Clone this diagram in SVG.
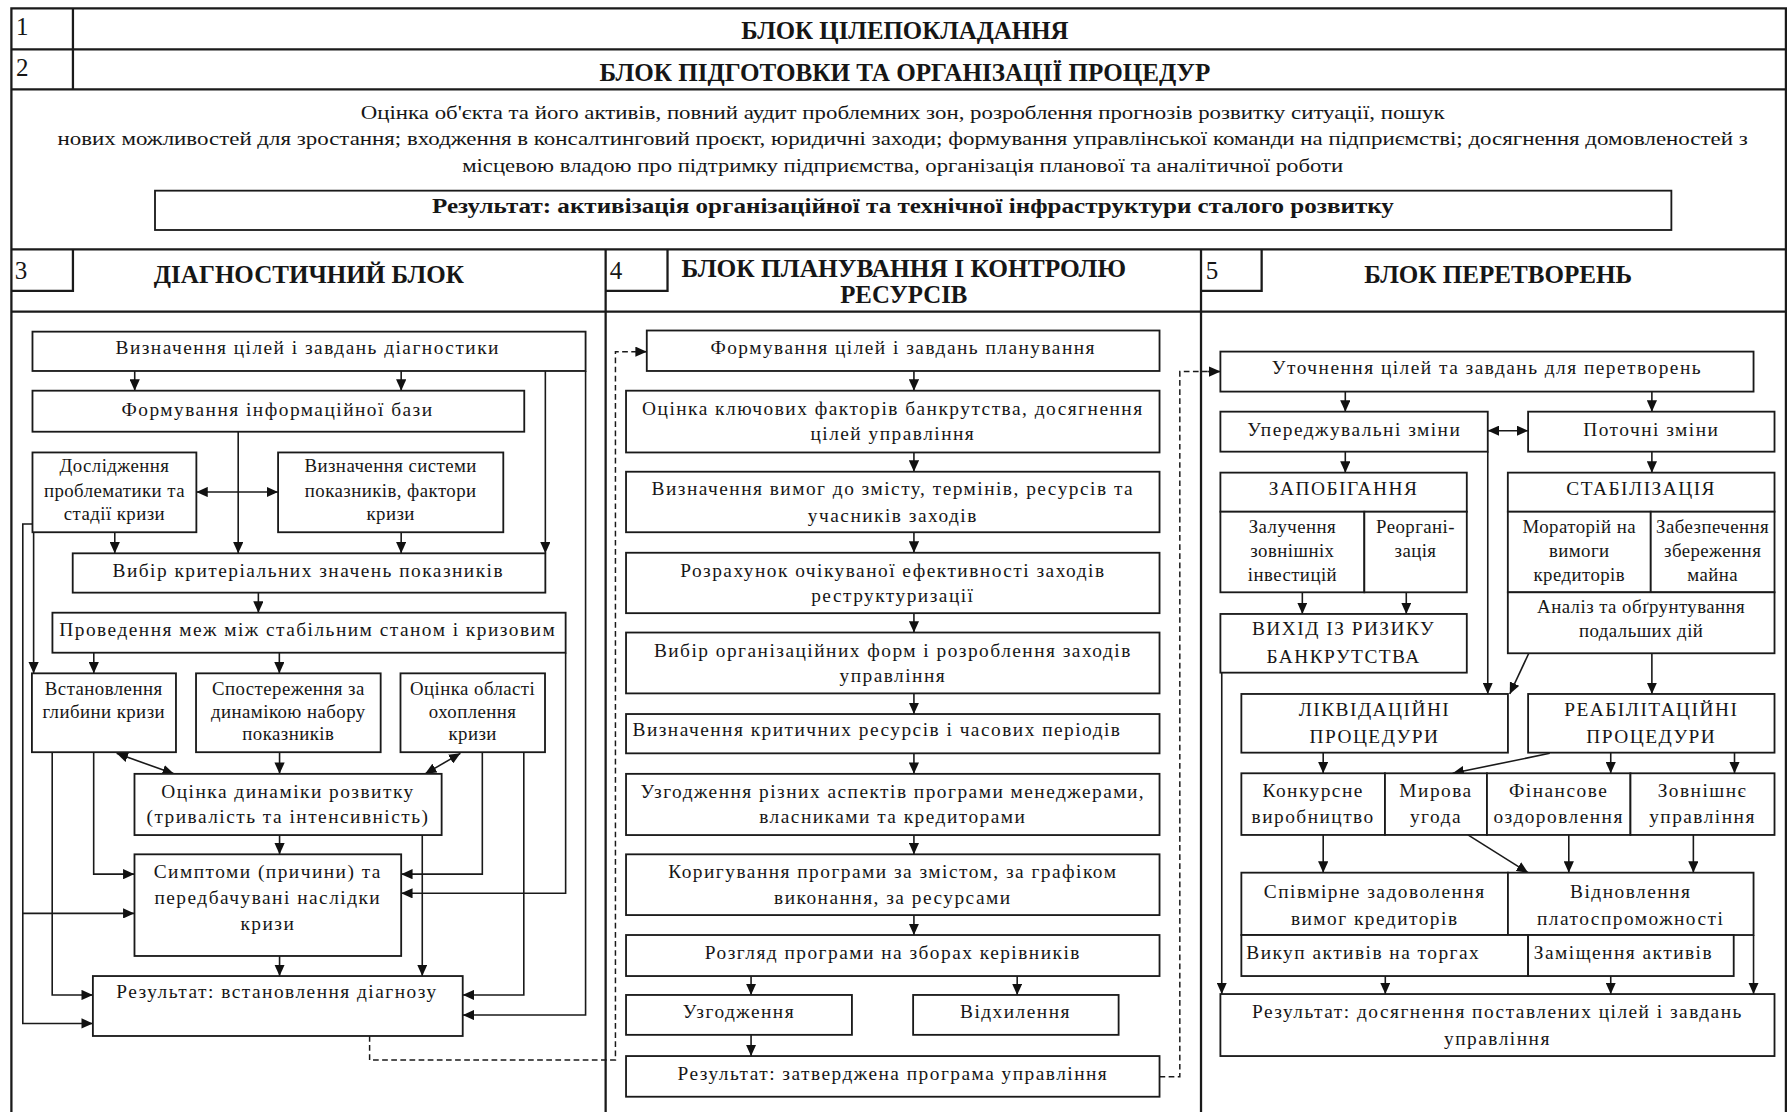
<svg xmlns="http://www.w3.org/2000/svg" width="1787" height="1112" viewBox="0 0 1787 1112">
<defs>
<marker id="ah" markerUnits="userSpaceOnUse" markerWidth="10" markerHeight="9" refX="10" refY="4.5" orient="auto-start-reverse" viewBox="0 0 10 9"><path d="M0,0 L10,4.5 L0,9 z" fill="#111"/></marker>
<style>
.fr{fill:none;stroke:#1a1a1a;stroke-width:2}
.bx{fill:#fff;stroke:#1a1a1a;stroke-width:1.6}
.ln{fill:none;stroke:#1a1a1a;stroke-width:1.4}
.ar{fill:none;stroke:#1a1a1a;stroke-width:1.4;marker-end:url(#ah)}
.da{fill:none;stroke:#1a1a1a;stroke-width:1.4;marker-start:url(#ah);marker-end:url(#ah)}
.dash{fill:none;stroke:#1a1a1a;stroke-width:1.3;stroke-dasharray:5 3}
text{font-family:"Liberation Serif","Times New Roman",serif;fill:#161616}
.t{font-size:17px;letter-spacing:1.3px;text-anchor:middle}
.s{font-size:16.5px;letter-spacing:0.4px;text-anchor:middle}
.l{font-size:17px;letter-spacing:1.3px;text-anchor:start}
.h{font-size:21.8px;font-weight:bold;text-anchor:middle}
.n{font-size:22px;text-anchor:start}
.p{font-size:16px;text-anchor:middle}
.rb{font-size:18.5px;font-weight:bold;text-anchor:middle}
</style>
</defs>
<rect width="1787" height="1112" fill="#fff"/>
<g transform="scale(1.1397)">
<g id="frame">
<path class="fr" d="M10,976 V7.3 H1567 V976"/>
<path class="fr" d="M10,43.3 H1567 M10,78.4 H1567 M10,218.8 H1567 M10,273.5 H1567"/>
<path class="fr" d="M64,7.3 V78.4"/>
<path class="fr" d="M531.4,218.8 V976 M1053.8,218.8 V976"/>
<path class="fr" d="M10,255.3 H64 V218.8 M531.4,255.3 H585.7 V218.8 M1053.8,255.3 H1107 V218.8"/>
</g>
<g id="block1">
<text class="n" x="14" y="30.5">1</text>
<text class="h" x="794" y="34.5" textLength="287" lengthAdjust="spacingAndGlyphs">БЛОК ЦІЛЕПОКЛАДАННЯ</text>
</g>
<g id="block2">
<text class="n" x="14" y="67">2</text>
<text class="h" x="794" y="70.8" textLength="536" lengthAdjust="spacingAndGlyphs">БЛОК ПІДГОТОВКИ ТА ОРГАНІЗАЦІЇ ПРОЦЕДУР</text>
<text class="p" x="792" y="104" textLength="951" lengthAdjust="spacingAndGlyphs">Оцінка об'єкта та його активів, повний аудит проблемних зон, розроблення прогнозів розвитку ситуації, пошук</text>
<text class="p" x="792" y="127" textLength="1483" lengthAdjust="spacingAndGlyphs">нових можливостей для зростання; входження в консалтинговий проєкт, юридичні заходи; формування управлінської команди на підприємстві; досягнення домовленостей з</text>
<text class="p" x="792" y="150.5" textLength="773" lengthAdjust="spacingAndGlyphs">місцевою владою про підтримку підприємства, організація планової та аналітичної роботи</text>
</g>
<g id="result2">
<rect class="bx" x="136" y="167.3" width="1330.5" height="34.5"/>
<text class="rb" x="801" y="187" textLength="844" lengthAdjust="spacingAndGlyphs">Результат: активізація організаційної та технічної інфраструктури сталого розвитку</text>
</g>
<g id="headers">
<text class="n" x="13" y="245">3</text>
<text class="h" x="271" y="248.6" textLength="272" lengthAdjust="spacingAndGlyphs">ДІАГНОСТИЧНИЙ БЛОК</text>
<text class="n" x="535" y="245">4</text>
<text class="h" x="793" y="243" textLength="390" lengthAdjust="spacingAndGlyphs">БЛОК ПЛАНУВАННЯ І КОНТРОЛЮ</text>
<text class="h" x="793" y="266">РЕСУРСІВ</text>
<text class="n" x="1058" y="245">5</text>
<text class="h" x="1314.5" y="248.6" textLength="235" lengthAdjust="spacingAndGlyphs">БЛОК ПЕРЕТВОРЕНЬ</text>
</g>

<g id="connectors">
<!-- diagnostic -->
<path class="ar" d="M118.2,325.5 V342.8"/>
<path class="ar" d="M352,325.5 V342.8"/>
<path class="ar" d="M478.5,325.5 V485.5"/>
<path class="ar" d="M513.8,325.5 V890.6 H406"/>
<path class="ar" d="M209,378.8 V485.5"/>
<path class="da" d="M172.3,431.7 H244"/>
<path class="ar" d="M100.7,467 V485.5"/>
<path class="ar" d="M352,467 V485.5"/>
<path class="ar" d="M226.7,520 V537.6"/>
<path class="ar" d="M82.3,572.7 V590.8"/>
<path class="ar" d="M245.1,572.7 V590.8"/>
<path class="ar" d="M496.3,572.7 V783.8 H352"/>
<path class="ar" d="M28.5,459.8 H20 V898 H81.5"/>
<path class="ar" d="M20,801.4 H118"/>
<path class="ar" d="M29.5,467 V590.8"/>
<path class="ar" d="M45.8,660 V873 H81.5"/>
<path class="ar" d="M82.2,660 V767 H118"/>
<path class="da" d="M102.3,661 L152.6,679"/>
<path class="ar" d="M245.3,660 V679"/>
<path class="da" d="M404,661 L373,679"/>
<path class="ar" d="M423.2,660 V767 H352"/>
<path class="ar" d="M459.6,660 V873 H406"/>
<path class="ar" d="M245.3,732.7 V749.6"/>
<path class="ar" d="M370.5,732.7 V856.4"/>
<path class="ar" d="M245.3,838.8 V856.4"/>
<path class="dash" d="M324.3,909 V930 H540 V308.6 H558"/>
<path class="ar" d="M558,308.6 H567.5"/>
<!-- planning -->
<path class="ar" d="M801.9,325.5 V342.8"/>
<path class="ar" d="M801.9,397 V413.9"/>
<path class="ar" d="M801.9,467 V485"/>
<path class="ar" d="M801.9,538 V555"/>
<path class="ar" d="M801.9,608.4 V626.5"/>
<path class="ar" d="M801.9,661 V679"/>
<path class="ar" d="M801.9,732.7 V749.6"/>
<path class="ar" d="M801.9,802.9 V820.4"/>
<path class="ar" d="M659,856.4 V873"/>
<path class="ar" d="M892.5,856.4 V873"/>
<path class="ar" d="M659,908 V926.6"/>
<path class="dash" d="M1017.4,944.7 H1035.2 V326 H1060"/>
<path class="ar" d="M1060,326 H1070.8"/>
<!-- transformation -->
<path class="ar" d="M1180.4,343.6 V361.2"/>
<path class="ar" d="M1449.4,343.6 V361.2"/>
<path class="da" d="M1305.4,377.9 H1340.8"/>
<path class="ar" d="M1180.4,396.3 V414.7"/>
<path class="ar" d="M1449.4,396.3 V414.7"/>
<path class="ar" d="M1305.4,396.3 V608.9"/>
<path class="ar" d="M1142.7,519.7 V538.7"/>
<path class="ar" d="M1233.9,519.7 V538.7"/>
<path class="ar" d="M1072,590.2 V872.2"/>
<path class="ar" d="M1341.4,573.2 L1324.7,608.9"/>
<path class="ar" d="M1449.4,573.2 V608.9"/>
<path class="ar" d="M1161,660.4 V678.5"/>
<path class="ar" d="M1359.8,661 L1274.6,678.5"/>
<path class="ar" d="M1413.3,660.4 V678.5"/>
<path class="ar" d="M1521.9,660.4 V678.5"/>
<path class="ar" d="M1161,732.6 V765.7"/>
<path class="ar" d="M1288,732.6 L1340.8,765.7"/>
<path class="ar" d="M1376.5,732.6 V765.7"/>
<path class="ar" d="M1485.8,732.6 V765.7"/>
<path class="ar" d="M1538.6,820.4 V872.2"/>
<path class="ar" d="M1215.5,856.4 V872.2"/>
<path class="ar" d="M1413.3,856.4 V872.2"/>
</g>

<!-- diagnostic nodes -->
<g id="d1"><rect class="bx" x="28.5" y="291" width="485.3" height="34.5"/><text class="t" x="270" y="310.6">Визначення цілей і завдань діагностики</text></g>
<g id="d2"><rect class="bx" x="28.5" y="342.8" width="431.5" height="36"/><text class="t" x="243.5" y="365">Формування інформаційної бази</text></g>
<g id="d3"><rect class="bx" x="28.5" y="397" width="143.8" height="70"/><text class="s" x="100.4" y="414.4">Дослідження</text><text class="s" x="100.4" y="436.4">проблематики та</text><text class="s" x="100.4" y="456.3">стадії кризи</text></g>
<g id="d4"><rect class="bx" x="244" y="397" width="197.6" height="70"/><text class="s" x="342.8" y="414.4">Визначення системи</text><text class="s" x="342.8" y="436.4">показників, фактори</text><text class="s" x="342.8" y="456.3">кризи</text></g>
<g id="d5"><rect class="bx" x="63.8" y="485.5" width="414.7" height="34.5"/><text class="t" x="270.5" y="506">Вибір критеріальних значень показників</text></g>
<g id="d6"><rect class="bx" x="46" y="537.6" width="450.3" height="35.1"/><text class="t" x="270" y="558">Проведення меж між стабільним станом і кризовим</text></g>
<g id="d7"><rect class="bx" x="28" y="590.8" width="126.4" height="69.2"/><text class="s" x="91" y="609.8">Встановлення</text><text class="s" x="91" y="630.3">глибини кризи</text></g>
<g id="d8"><rect class="bx" x="172" y="590.8" width="162" height="69.2"/><text class="s" x="253" y="609.8">Спостереження за</text><text class="s" x="253" y="630.3">динамікою набору</text><text class="s" x="253" y="649.3">показників</text></g>
<g id="d9"><rect class="bx" x="351.4" y="590.8" width="126.8" height="69.2"/><text class="s" x="414.7" y="609.8">Оцінка області</text><text class="s" x="414.7" y="630.3">охоплення</text><text class="s" x="414.7" y="649.3">кризи</text></g>
<g id="d10"><rect class="bx" x="118" y="679" width="269.5" height="53.7"/><text class="t" x="252.7" y="700.5">Оцінка динаміки розвитку</text><text class="t" x="252.7" y="722.4">(тривалість та інтенсивність)</text></g>
<g id="d11"><rect class="bx" x="118" y="749.6" width="234" height="89.2"/><text class="t" x="235" y="770.7">Симптоми (причини) та</text><text class="t" x="235" y="793.2">передбачувані наслідки</text><text class="t" x="235" y="816">кризи</text></g>
<g id="d12"><rect class="bx" x="81.5" y="856.4" width="324.5" height="52.6"/><text class="t" x="243" y="876">Результат: встановлення діагнозу</text></g>

<!-- planning nodes -->
<g id="m1"><rect class="bx" x="567.5" y="290" width="449.9" height="35.5"/><text class="t" x="792.5" y="310.9">Формування цілей і завдань планування</text></g>
<g id="m2"><rect class="bx" x="549.3" y="342.8" width="468.1" height="54.2"/><text class="t" x="783.4" y="364.1">Оцінка ключових факторів банкрутства, досягнення</text><text class="t" x="783.4" y="386.1">цілей управління</text></g>
<g id="m3"><rect class="bx" x="549.3" y="413.9" width="468.1" height="53.1"/><text class="t" x="783.4" y="434.3">Визначення вимог до змісту, термінів, ресурсів та</text><text class="t" x="783.4" y="457.7">учасників заходів</text></g>
<g id="m4"><rect class="bx" x="549.3" y="485" width="468.1" height="53"/><text class="t" x="783.4" y="506">Розрахунок очікуваної ефективності заходів</text><text class="t" x="783.4" y="528">реструктуризації</text></g>
<g id="m5"><rect class="bx" x="549.3" y="555" width="468.1" height="53.4"/><text class="t" x="783.4" y="576.8">Вибір організаційних форм і розроблення заходів</text><text class="t" x="783.4" y="598.1">управління</text></g>
<g id="m6"><rect class="bx" x="549.3" y="626.5" width="468.1" height="34.5"/><text class="t" x="769.5" y="645.8">Визначення критичних ресурсів і часових періодів</text></g>
<g id="m7"><rect class="bx" x="549.3" y="679" width="468.1" height="53.7"/><text class="t" x="783.4" y="699.9">Узгодження різних аспектів програми менеджерами,</text><text class="t" x="783.4" y="721.8">власниками та кредиторами</text></g>
<g id="m8"><rect class="bx" x="549.3" y="749.6" width="468.1" height="53.3"/><text class="t" x="783.4" y="770.1">Коригування програми за змістом, за графіком</text><text class="t" x="783.4" y="793.2">виконання, за ресурсами</text></g>
<g id="m9"><rect class="bx" x="549.3" y="820.4" width="468.1" height="36"/><text class="t" x="783.4" y="841.8">Розгляд програми на зборах керівників</text></g>
<g id="m10"><rect class="bx" x="549.3" y="873" width="198.2" height="35"/><text class="t" x="648.4" y="893.5">Узгодження</text></g>
<g id="m11"><rect class="bx" x="801.2" y="873" width="180.3" height="35"/><text class="t" x="891" y="893.5">Відхилення</text></g>
<g id="m12"><rect class="bx" x="549.3" y="926.6" width="468.1" height="35.7"/><text class="t" x="783.4" y="947.7">Результат: затверджена програма управління</text></g>

<!-- transformation nodes -->
<g id="r1"><rect class="bx" x="1070.8" y="308.5" width="467.8" height="35.1"/><text class="t" x="1304.7" y="328.1">Уточнення цілей та завдань для перетворень</text></g>
<g id="r2"><rect class="bx" x="1070.8" y="361.2" width="234.6" height="35.1"/><text class="t" x="1188.3" y="382.5">Упереджувальні зміни</text></g>
<g id="r3"><rect class="bx" x="1340.8" y="361.2" width="216.2" height="35.1"/><text class="t" x="1448.9" y="382.5">Поточні зміни</text></g>
<g id="r4">
<rect class="bx" x="1070.8" y="414.7" width="216.2" height="34.3"/><text class="t" x="1178.9" y="434.3">ЗАПОБІГАННЯ</text>
<rect class="bx" x="1070.8" y="449" width="126.3" height="70.7"/><text class="s" x="1134" y="468">Залучення</text><text class="s" x="1134" y="488.4">зовнішніх</text><text class="s" x="1134" y="509.5">інвестицій</text>
<rect class="bx" x="1197.1" y="449" width="89.9" height="70.7"/><text class="s" x="1242" y="468">Реоргані-</text><text class="s" x="1242" y="488.4">зація</text>
</g>
<g id="r5">
<rect class="bx" x="1323" y="414.7" width="234" height="34.3"/><text class="t" x="1440" y="434.3">СТАБІЛІЗАЦІЯ</text>
<rect class="bx" x="1323" y="449" width="125.4" height="70.7"/><text class="s" x="1385.7" y="468">Мораторій на</text><text class="s" x="1385.7" y="488.4">вимоги</text><text class="s" x="1385.7" y="509.5">кредиторів</text>
<rect class="bx" x="1448.4" y="449" width="108.6" height="70.7"/><text class="s" x="1502.7" y="468">Забезпечення</text><text class="s" x="1502.7" y="488.4">збереження</text><text class="s" x="1502.7" y="509.5">майна</text>
<rect class="bx" x="1323" y="519.7" width="234" height="53.5"/><text class="s" x="1440" y="537.6">Аналіз та обґрунтування</text><text class="s" x="1440" y="558.6">подальших дій</text>
</g>
<g id="r6"><rect class="bx" x="1070.8" y="538.7" width="216.2" height="51.5"/><text class="t" x="1178.9" y="557.2">ВИХІД ІЗ РИЗИКУ</text><text class="t" x="1178.9" y="581.4">БАНКРУТСТВА</text></g>
<g id="r7"><rect class="bx" x="1089.2" y="608.9" width="233.9" height="51.5"/><text class="t" x="1206" y="628.2">ЛІКВІДАЦІЙНІ</text><text class="t" x="1206" y="652.2">ПРОЦЕДУРИ</text></g>
<g id="r8"><rect class="bx" x="1340.8" y="608.9" width="216.2" height="51.5"/><text class="t" x="1448.9" y="628.2">РЕАБІЛІТАЦІЙНІ</text><text class="t" x="1448.9" y="652.2">ПРОЦЕДУРИ</text></g>
<g id="r9a"><rect class="bx" x="1089.2" y="678.5" width="126" height="54.1"/><text class="t" x="1152.2" y="699.6">Конкурсне</text><text class="t" x="1152.2" y="722.4">виробництво</text></g>
<g id="r9b"><rect class="bx" x="1215.2" y="678.5" width="89.5" height="54.1"/><text class="t" x="1260" y="699.6">Мирова</text><text class="t" x="1260" y="722.4">угода</text></g>
<g id="r9c"><rect class="bx" x="1304.7" y="678.5" width="125.9" height="54.1"/><text class="t" x="1367.6" y="699.6">Фінансове</text><text class="t" x="1367.6" y="722.4">оздоровлення</text></g>
<g id="r9d"><rect class="bx" x="1430.6" y="678.5" width="126.4" height="54.1"/><text class="t" x="1493.8" y="699.6">Зовнішнє</text><text class="t" x="1493.8" y="722.4">управління</text></g>
<g id="r10a"><rect class="bx" x="1089.2" y="765.7" width="233.9" height="54.7"/><text class="t" x="1206.2" y="788.2">Співмірне задоволення</text><text class="t" x="1206.2" y="811.6">вимог кредиторів</text></g>
<g id="r10b"><rect class="bx" x="1323.1" y="765.7" width="215.5" height="54.7"/><text class="t" x="1430.8" y="788.2">Відновлення</text><text class="t" x="1430.8" y="811.6">платоспроможності</text></g>
<g id="r11a"><rect class="bx" x="1089.2" y="820.4" width="251.6" height="36"/><text class="l" x="1093.5" y="841.7">Викуп активів на торгах</text></g>
<g id="r11b"><rect class="bx" x="1340.8" y="820.4" width="180.4" height="36"/><text class="l" x="1345.8" y="841.7">Заміщення активів</text></g>
<g id="r12"><rect class="bx" x="1070.8" y="872.2" width="486.2" height="54.4"/><text class="t" x="1313.9" y="893.5">Результат: досягнення поставлених цілей і завдань</text><text class="t" x="1313.9" y="917">управління</text></g>
</g>
</svg>
